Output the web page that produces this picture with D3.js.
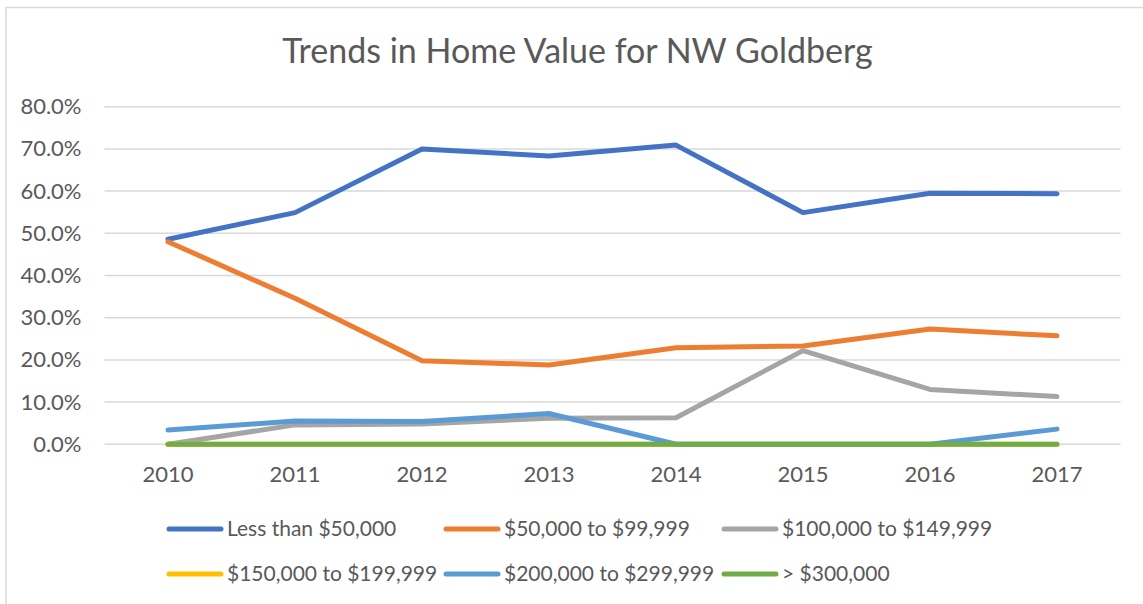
<!DOCTYPE html>
<html>
<head>
<meta charset="utf-8">
<script src="https://cdn.jsdelivr.net/npm/d3@7"></script>
<style>
  body { margin: 0; background: #fff; }
  text { font-family: Lato, "Liberation Sans", sans-serif; fill: #595959; }
</style>
</head>
<body>
<script>
var years = ["2010", "2011", "2012", "2013", "2014", "2015", "2016", "2017"];
var seriesNames = ["Less than $50,000", "$50,000 to $99,999", "$100,000 to $149,999",
                   "$150,000 to $199,999", "$200,000 to $299,999", "> $300,000"];
var seriesColors = ["#4472C4", "#ED7D31", "#A5A5A5", "#FFC000", "#5B9BD5", "#70AD47"];

var lessThan50k   = [0.486, 0.549, 0.700, 0.683, 0.709, 0.549, 0.595, 0.594];
var from50to99k   = [0.480, 0.346, 0.198, 0.188, 0.229, 0.233, 0.273, 0.257];
var from100to149k = [0.000, 0.046, 0.048, 0.062, 0.063, 0.222, 0.130, 0.113];
var from150to199k = [0, 0, 0, 0, 0, 0, 0, 0];
var from200to299k = [0.034, 0.055, 0.054, 0.073, 0.000, 0.000, 0.000, 0.036];
var over300k      = [0, 0, 0, 0, 0, 0, 0, 0];

var yTicks = [0, 0.1, 0.2, 0.3, 0.4, 0.5, 0.6, 0.7, 0.8];

var allValues = [lessThan50k, from50to99k, from100to149k, from150to199k, from200to299k, over300k];
var series = seriesNames.map(function(name, i) {
  return {name: name, color: seriesColors[i], values: allValues[i]};
});

var svgWidth = 1143, svgHeight = 604;
var margin = {top: 106.7, left: 104.5, right: 22.5, bottom: 159.7};
var width = svgWidth - margin.left - margin.right;
var height = svgHeight - margin.top - margin.bottom;

var svg = d3.select("body").append("svg")
  .attr("width", svgWidth)
  .attr("height", svgHeight);

// chart border (right and bottom run off the picture)
svg.append("rect")
  .attr("x", 6).attr("y", 7.5)
  .attr("width", svgWidth + 10).attr("height", svgHeight + 10)
  .attr("fill", "none")
  .attr("stroke", "#d9d9d9")
  .attr("stroke-width", 1.5);

svg.append("text")
  .attr("x", 577.5).attr("y", 63)
  .attr("text-anchor", "middle")
  .style("font-size", "34px")
  .text("Trends in Home Value for NW Goldberg");

var g = svg.append("g")
  .attr("transform", "translate(" + margin.left + "," + margin.top + ")");

var x = d3.scaleBand().domain(years).range([0, width]);
var y = d3.scaleLinear().domain([0, 0.8]).range([height, 0]);

// gridlines
g.selectAll(".grid").data(yTicks).enter().append("line")
  .attr("x1", 0).attr("x2", width)
  .attr("y1", function(d) { return y(d); })
  .attr("y2", function(d) { return y(d); })
  .attr("stroke", "#d9d9d9")
  .attr("stroke-width", 1.5);

var yAxis = d3.axisLeft(y).tickValues(yTicks).tickFormat(d3.format(".1%")).tickSize(0).tickPadding(23);
var gY = g.append("g").call(yAxis);
gY.select(".domain").remove();
gY.selectAll("text").style("font-size", "22px").attr("fill", "#595959");

var xAxis = d3.axisBottom(x).tickSize(0).tickPadding(22);
var gX = g.append("g").attr("transform", "translate(0," + height + ")").call(xAxis);
gX.select(".domain").remove();
gX.selectAll("text").style("font-size", "22px").attr("fill", "#595959");

var line = d3.line()
  .x(function(d, i) { return x(years[i]) + x.bandwidth() / 2; })
  .y(function(d) { return y(d); });

g.selectAll(".series").data(series).enter().append("path")
  .attr("d", function(d) { return line(d.values); })
  .attr("fill", "none")
  .attr("stroke", function(d) { return d.color; })
  .attr("stroke-width", 5)
  .attr("stroke-linecap", "round")
  .attr("stroke-linejoin", "round");

// legend
var legendPos = [[168, 529], [445, 529], [723, 529], [168, 574], [445, 574], [723, 574]];
var leg = svg.selectAll(".legend").data(series).enter().append("g")
  .attr("transform", function(d, i) { return "translate(" + legendPos[i][0] + "," + legendPos[i][1] + ")"; });
leg.append("line")
  .attr("x1", 1).attr("x2", 53)
  .attr("stroke", function(d) { return d.color; })
  .attr("stroke-width", 5)
  .attr("stroke-linecap", "round");
leg.append("text")
  .attr("x", 59).attr("dy", "0.35em")
  .style("font-size", "21px")
  .text(function(d) { return d.name; });
</script>
</body>
</html>
